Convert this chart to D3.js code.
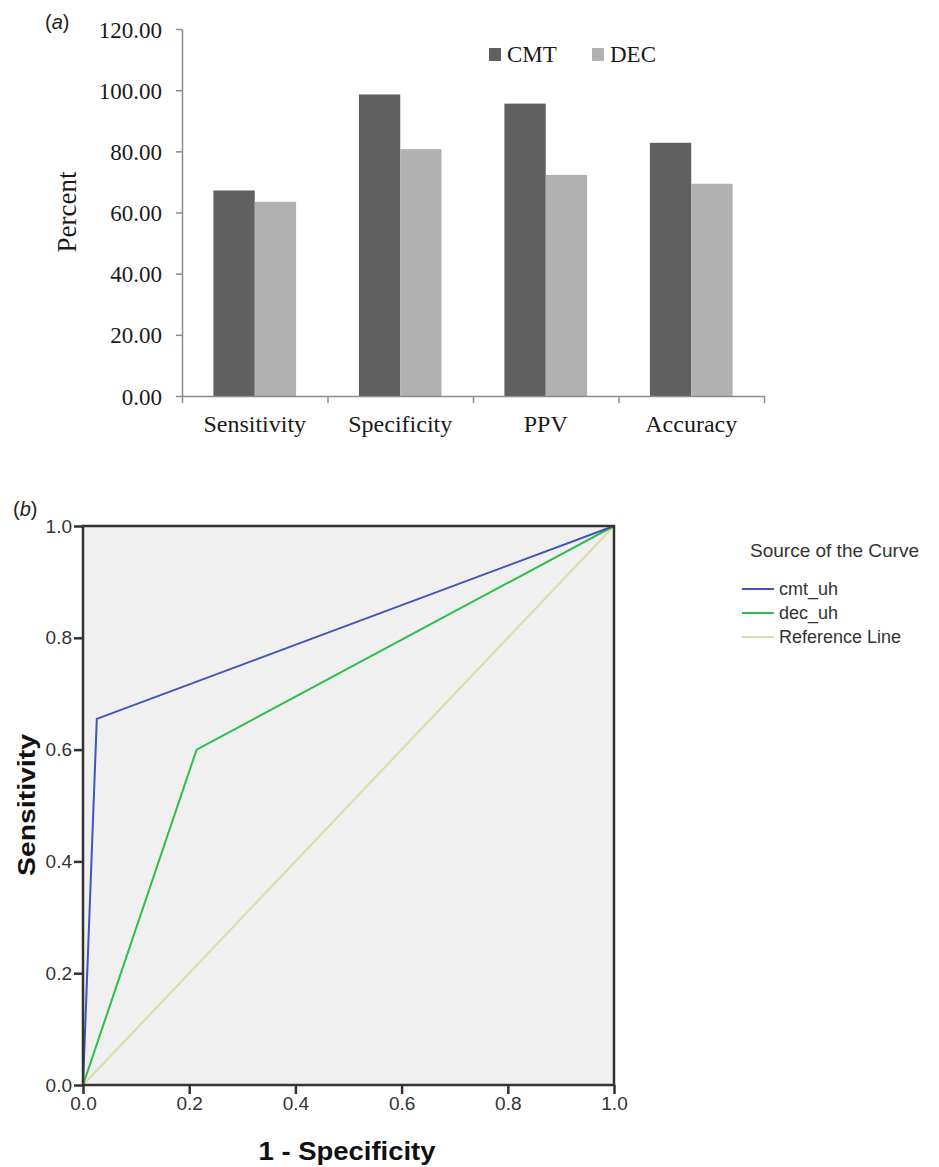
<!DOCTYPE html>
<html>
<head>
<meta charset="utf-8">
<script src="https://cdn.jsdelivr.net/npm/d3@7"></script>
<style>
  body { margin: 0; background: #fff; }
  svg { display: block; }
</style>
</head>
<body>
<div class="visHolder"></div>
<script>
// panel (a) data
var categories = ['Sensitivity', 'Specificity', 'PPV', 'Accuracy'];
var seriesNames = ['CMT', 'DEC'];
var cmtValues = [67.2, 98.6, 95.6, 82.8];
var decValues = [63.5, 80.7, 72.3, 69.4];
var percentTicks = [0, 20, 40, 60, 80, 100, 120];

// panel (b) data
var rocTicks = [0, 0.2, 0.4, 0.6, 0.8, 1.0];
var cmtCurve = [[0, 0], [0.026, 0.655], [1, 1]];
var decCurve = [[0, 0], [0.214, 0.6], [1, 1]];
var refLine = [[0, 0], [1, 1]];
var curveNames = ['cmt_uh', 'dec_uh', 'Reference Line'];

var width = 939,
    height = 1167;

var svg = d3
    .select('.visHolder')
    .append('svg')
    .attr('width', width)
    .attr('height', height);

// ---------- (a) bar chart ----------
var serif = 'Liberation Serif, Times New Roman, serif';
var barColors = ['#606060', '#b1b1b1'];
var axisGray = '#8c8c8c';

var x0 = 182, x1 = 764, yTop = 29, yBottom = 396;

var yScale = d3.scaleLinear().domain([0, 120]).range([yBottom, yTop]);
var xBand = d3.scaleBand().domain(categories).range([x0, x1]);
var xInner = d3.scaleBand().domain(seriesNames)
    .range([0, xBand.bandwidth()]).paddingOuter(0.76);

svg.append('text')
    .attr('x', 45)
    .attr('y', 29)
    .style('font-family', 'Liberation Sans, Arial, sans-serif')
    .style('font-size', '20px')
    .attr('fill', '#222')
    .html('(<tspan font-style="italic">a</tspan>)');

var groups = svg.append('g')
    .selectAll('g')
    .data(categories)
    .enter()
    .append('g')
    .attr('transform', function (d) { return 'translate(' + xBand(d) + ',0)'; });

groups.selectAll('rect')
    .data(function (d, i) {
        return [{ s: 'CMT', v: cmtValues[i] }, { s: 'DEC', v: decValues[i] }];
    })
    .enter()
    .append('rect')
    .attr('x', function (d) { return xInner(d.s); })
    .attr('y', function (d) { return yScale(d.v); })
    .attr('width', xInner.bandwidth())
    .attr('height', function (d) { return yBottom - yScale(d.v); })
    .attr('fill', function (d, i) { return barColors[i]; });

var yAxisA = svg.append('g')
    .attr('transform', 'translate(' + x0 + ',0)')
    .call(d3.axisLeft(yScale).tickValues(percentTicks)
        .tickFormat(d3.format('.2f')).tickSize(6).tickSizeOuter(0).tickPadding(14));

var xTickScale = d3.scaleLinear().domain([0, 4]).range([x0, x1]);
var xAxisA = svg.append('g')
    .attr('transform', 'translate(0,' + yBottom + ')')
    .call(d3.axisBottom(xTickScale).ticks(4).tickSize(7).tickSizeOuter(0).tickFormat(''));

var xLabelsA = svg.append('g')
    .attr('transform', 'translate(0,' + yBottom + ')')
    .call(d3.axisBottom(xBand).tickSize(0).tickPadding(36));

[yAxisA, xAxisA, xLabelsA].forEach(function (g) {
    g.selectAll('path, line').attr('stroke', axisGray).attr('stroke-width', 1.5);
    g.selectAll('text')
        .style('font-family', serif)
        .attr('fill', '#1a1a1a');
});
yAxisA.selectAll('text').style('font-size', '23px').attr('dy', '0.35em');
xLabelsA.select('.domain').remove();
xLabelsA.selectAll('text').style('font-size', '24px').attr('dy', '0');

svg.append('text')
    .attr('transform', 'rotate(-90)')
    .attr('x', -212)
    .attr('y', 76)
    .attr('text-anchor', 'middle')
    .style('font-family', serif)
    .style('font-size', '27px')
    .attr('fill', '#1a1a1a')
    .text('Percent');

var legendA = svg.append('g')
    .selectAll('g')
    .data(seriesNames)
    .enter()
    .append('g')
    .attr('transform', function (d, i) { return 'translate(' + (489 + i * 103) + ',48)'; });

legendA.append('rect')
    .attr('width', 12)
    .attr('height', 13)
    .attr('fill', function (d, i) { return barColors[i]; });

legendA.append('text')
    .attr('x', 18)
    .attr('y', 14)
    .style('font-family', serif)
    .style('font-size', '23px')
    .attr('fill', '#1a1a1a')
    .text(function (d) { return d; });

// ---------- (b) ROC chart ----------
var sans = 'Liberation Sans, Arial, sans-serif';
var px0 = 83, px1 = 614, py0 = 526, py1 = 1085;

var rx = d3.scaleLinear().domain([0, 1]).range([px0, px1]);
var ry = d3.scaleLinear().domain([0, 1]).range([py1, py0]);

svg.append('text')
    .attr('x', 13)
    .attr('y', 516)
    .style('font-family', sans)
    .style('font-size', '20px')
    .attr('fill', '#222')
    .html('(<tspan font-style="italic">b</tspan>)');

svg.append('rect')
    .attr('x', px0)
    .attr('y', py0)
    .attr('width', px1 - px0)
    .attr('height', py1 - py0)
    .attr('fill', '#f0f0f0');

var line = d3.line()
    .x(function (d) { return rx(d[0]); })
    .y(function (d) { return ry(d[1]); });

var curveColors = ['#3f55b8', '#2fbd4c', '#dcdca6'];
var curves = [cmtCurve, decCurve, refLine];

svg.append('g')
    .selectAll('path')
    .data(curves.slice().reverse())
    .enter()
    .append('path')
    .attr('d', line)
    .attr('fill', 'none')
    .attr('stroke', function (d, i) { return curveColors[2 - i]; })
    .attr('stroke-width', 2);

var yAxisB = svg.append('g')
    .attr('transform', 'translate(' + px0 + ',0)')
    .call(d3.axisLeft(ry).tickValues(rocTicks).tickFormat(d3.format('.1f'))
        .tickSize(9).tickSizeOuter(0).tickPadding(2));

var xAxisB = svg.append('g')
    .attr('transform', 'translate(0,' + py1 + ')')
    .call(d3.axisBottom(rx).tickValues(rocTicks).tickFormat(d3.format('.1f'))
        .tickSize(9).tickSizeOuter(0).tickPadding(3));

[yAxisB, xAxisB].forEach(function (g) {
    g.select('.domain').remove();
    g.selectAll('line').attr('stroke', '#333').attr('stroke-width', 2.5);
    g.selectAll('text')
        .style('font-family', sans)
        .style('font-size', '19px')
        .attr('fill', '#333');
});

svg.append('rect')
    .attr('x', px0)
    .attr('y', py0)
    .attr('width', px1 - px0)
    .attr('height', py1 - py0)
    .attr('fill', 'none')
    .attr('stroke', '#333')
    .attr('stroke-width', 2.5);

svg.append('text')
    .attr('transform', 'rotate(-90)')
    .attr('x', -805)
    .attr('y', 35)
    .attr('text-anchor', 'middle')
    .attr('textLength', 142)
    .attr('lengthAdjust', 'spacingAndGlyphs')
    .style('font-family', sans)
    .style('font-size', '24px')
    .style('font-weight', 'bold')
    .attr('fill', '#111')
    .text('Sensitivity');

svg.append('text')
    .attr('x', 347)
    .attr('y', 1160)
    .attr('text-anchor', 'middle')
    .attr('textLength', 177)
    .attr('lengthAdjust', 'spacingAndGlyphs')
    .style('font-family', sans)
    .style('font-size', '25px')
    .style('font-weight', 'bold')
    .attr('fill', '#111')
    .text('1 - Specificity');

svg.append('text')
    .attr('x', 750)
    .attr('y', 557)
    .style('font-family', sans)
    .style('font-size', '19px')
    .attr('fill', '#333')
    .text('Source of the Curve');

var legendB = svg.append('g')
    .selectAll('g')
    .data(curveNames)
    .enter()
    .append('g')
    .attr('transform', function (d, i) { return 'translate(742,' + (589 + i * 24) + ')'; });

legendB.append('line')
    .attr('x1', 0)
    .attr('x2', 32)
    .attr('stroke', function (d, i) { return curveColors[i]; })
    .attr('stroke-width', 2);

legendB.append('text')
    .attr('x', 37)
    .attr('y', 6)
    .style('font-family', sans)
    .style('font-size', '18px')
    .attr('fill', '#333')
    .text(function (d) { return d; });
</script>
</body>
</html>
